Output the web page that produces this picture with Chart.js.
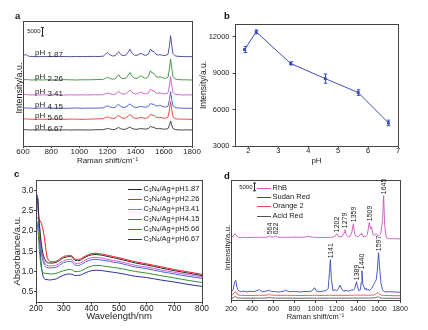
<!DOCTYPE html>
<html><head><meta charset="utf-8">
<script src="https://cdn.jsdelivr.net/npm/chart.js@4.4.1/dist/chart.umd.min.js"></script>
<style>
html,body{margin:0;padding:0;background:#fff}
#wrap{position:relative;width:428px;height:330px;overflow:hidden;background:#fff}
canvas{position:absolute}
.pl{position:absolute;font:bold 9.5px "Liberation Sans",Arial,sans-serif;color:#111;line-height:10px}
</style></head><body>
<div id="wrap">
<canvas id="ca" width="214" height="165" style="left:0px;top:0px"></canvas>
<canvas id="cb" width="232" height="165" style="left:196px;top:0px"></canvas>
<canvas id="cc" width="214" height="165" style="left:0px;top:165px"></canvas>
<canvas id="cd" width="214" height="165" style="left:214px;top:165px"></canvas>
<div class="pl" style="left:15px;top:11px">a</div>
<div class="pl" style="left:224px;top:11px">b</div>
<div class="pl" style="left:14px;top:169px">c</div>
<div class="pl" style="left:224px;top:171px">d</div>
</div>
<script>
// ---------------- panel a data ----------------
const ticksAX = [600, 800, 1000, 1200, 1400, 1600, 1800];
const phA = ['1.87', '2.26', '3.41', '4.15', '5.66', '6.67'];
const offsetsA = [53600, 39600, 30600, 22600, 16000, 9600];
const ramanA = [600,612,622,632,645,670,700,740,780,820,
  860,900,940,980,1020,1060,1100,1140,1170,1185,
  1200,1215,1235,1255,1270,1280,1292,1310,1330,1348,
  1360,1372,1390,1410,1425,1437,1450,1470,1490,1505,
  1515,1530,1545,1560,1572,1585,1600,1615,1630,1640,
  1648,1656,1665,1680,1700,1730,1760,1800];
const specA187 = [300,1000,1300,600,200,100,0,100,0,150,
  50,100,0,100,50,100,150,100,300,1500,
  2400,1300,400,600,2200,3000,1400,600,900,2800,
  4400,2400,900,800,1500,2000,1400,700,1500,4600,
  3400,3000,1400,1000,1200,900,700,800,1500,6500,
  12600,7000,1800,500,200,100,50,0];
const specA226 = [0,200,300,200,100,0,150,0,200,100,
  0,200,100,0,150,100,200,300,400,1000,
  1600,1000,500,700,2400,3200,1500,700,1100,3000,
  4600,2600,1100,1000,1900,2600,1700,900,2000,5600,
  4300,4000,2000,1700,2000,1600,1100,1000,1800,6800,
  12600,7400,2000,600,300,100,150,0];
const specA341 = [100,300,400,200,0,100,0,100,0,150,
  50,0,100,0,100,0,150,100,200,800,
  1200,800,300,500,1600,2100,1100,500,700,2000,
  3000,1800,700,700,1300,1800,1200,600,1200,3600,
  2800,2400,1200,1000,1200,1000,700,700,1400,5800,
  11000,6000,1600,400,200,0,100,0];
const specA415 = [0,200,300,100,200,0,100,200,0,100,
  200,0,100,200,0,150,100,200,300,1000,
  1500,900,400,600,1900,2400,1200,500,800,1900,
  2700,1600,700,600,900,1200,900,600,1200,3000,
  2500,2400,1300,1500,1800,1400,900,800,1300,5200,
  10000,5400,1500,500,200,100,0,100];
const specA566 = [100,200,300,200,100,0,100,0,100,200,
  100,0,150,100,0,100,200,300,400,1100,
  1500,1000,500,700,1900,2400,1300,600,900,2100,
  3000,1700,700,600,900,1200,900,600,1200,3000,
  2600,2400,1200,1000,1200,1000,700,700,1400,5600,
  10600,5800,1500,400,200,100,100,0];
const specA667 = [100,200,200,100,0,100,0,100,0,100,
  0,100,0,100,50,0,100,200,200,600,
  900,600,300,400,1200,1500,800,400,500,1300,
  1800,1000,500,400,700,900,700,500,900,2100,
  1800,1500,900,700,900,700,500,500,900,3000,
  5400,3000,900,300,100,0,100,0];
const scaleBarA = 5000;

// ---------------- panel b data ----------------
const ticksBX = [2, 3, 4, 5, 6, 7];
const ticksBY = [3000, 6000, 9000, 12000];
const phB = [1.87, 2.26, 3.41, 4.57, 5.67, 6.68];
const intB = [10950, 12400, 9800, 8550, 7400, 4900];
const errB = [250, 160, 130, 380, 230, 230];

// ---------------- panel c data ----------------
const ticksCX = [200, 300, 400, 500, 600, 700, 800];
const ticksCY = [0.5, 1.0, 1.5, 2.0, 2.5, 3.0];
const labelsC = ['C₃N₄/Ag+pH1.87', 'C₃N₄/Ag+pH2.26', 'C₃N₄/Ag+pH3.41', 'C₃N₄/Ag+pH4.15', 'C₃N₄/Ag+pH5.66', 'C₃N₄/Ag+pH6.67'];
const wavelengthC = [200,203,206,209,212,216,220,225,230,235,
  240,250,260,270,280,290,300,310,320,330,
  335,340,350,360,370,380,390,400,410,420,
  430,440,460,480,500,530,560,600,650,700,
  750,800];
const absC187 = [2.6,2.82,2.78,2.5,2.2,1.9,1.65,1.45,1.33,1.26,
  1.22,1.21,1.21,1.22,1.25,1.3,1.34,1.36,1.37,1.36,
  1.32,1.28,1.27,1.28,1.32,1.36,1.39,1.41,1.42,1.42,
  1.41,1.4,1.37,1.34,1.31,1.26,1.21,1.16,1.09,1.02,
  0.96,0.9];
const absC226 = [2.36,2.34,2.32,2.3,2.28,2.25,2.18,2.05,1.85,1.6,
  1.36,1.25,1.24,1.25,1.28,1.33,1.37,1.39,1.4,1.39,
  1.35,1.31,1.3,1.31,1.35,1.39,1.42,1.44,1.45,1.45,
  1.44,1.43,1.4,1.37,1.34,1.29,1.24,1.19,1.12,1.05,
  0.99,0.93];
const absC341 = [2.5,2.75,2.7,2.4,2.1,1.8,1.55,1.35,1.24,1.18,
  1.15,1.14,1.14,1.15,1.18,1.23,1.27,1.29,1.3,1.29,
  1.25,1.21,1.2,1.21,1.25,1.29,1.32,1.34,1.35,1.35,
  1.34,1.33,1.3,1.27,1.25,1.2,1.15,1.11,1.04,0.98,
  0.92,0.87];
const absC415 = [2.6,2.88,2.8,2.4,2.0,1.7,1.45,1.27,1.17,1.12,
  1.1,1.09,1.09,1.1,1.13,1.18,1.22,1.24,1.25,1.24,
  1.2,1.16,1.15,1.16,1.2,1.24,1.27,1.29,1.3,1.3,
  1.29,1.28,1.26,1.23,1.21,1.16,1.11,1.07,1.0,0.94,
  0.88,0.83];
const absC566 = [2.3,2.25,2.1,1.85,1.55,1.25,1.06,0.98,0.96,0.95,
  0.95,0.94,0.94,0.95,0.97,1.0,1.02,1.04,1.05,1.04,
  1.02,1.0,1.0,1.01,1.04,1.08,1.11,1.13,1.15,1.15,
  1.15,1.14,1.12,1.1,1.08,1.04,1.0,0.96,0.9,0.84,
  0.78,0.73];
const absC667 = [2.6,2.9,2.85,2.4,1.9,1.45,1.1,0.9,0.82,0.8,
  0.8,0.79,0.8,0.81,0.84,0.88,0.91,0.93,0.94,0.93,
  0.92,0.9,0.9,0.91,0.94,0.97,1.0,1.02,1.03,1.03,
  1.03,1.02,1.0,0.98,0.96,0.92,0.88,0.85,0.79,0.74,
  0.68,0.63];

// ---------------- panel d data ----------------
const ticksDX = [200, 400, 600, 800, 1000, 1200, 1400, 1600, 1800];
const namesD = ['RhB', 'Sudan Red', 'Orange 2', 'Acid Red'];
const offsetsD = [40500, 4750, 2800, 1100];
const peaksRhB = [564, 622, 1202, 1279, 1359, 1509, 1645];
const peaksSudan = [1141, 1389, 1440, 1597];
const scaleBarD = 5000;
const ramanD = [200,220,235,245,255,270,290,320,350,380,
  400,430,460,470,480,500,530,550,564,575,
  600,622,640,670,700,720,735,760,800,850,
  900,940,970,990,1010,1040,1070,1100,1120,1132,
  1141,1150,1165,1185,1202,1215,1232,1250,1270,1279,
  1290,1310,1330,1345,1359,1370,1385,1389,1395,1410,
  1425,1432,1440,1448,1460,1470,1480,1490,1500,1509,
  1520,1530,1545,1560,1575,1585,1597,1608,1620,1635,
  1645,1655,1670,1700,1740,1800];
const rhbD = [0,1000,2600,2300,1000,300,0,200,0,200,
  100,300,200,300,250,200,300,500,1200,500,
  400,1200,400,200,250,300,200,250,400,250,
  400,800,300,250,200,100,200,100,200,100,
  200,100,300,1000,2600,1000,500,650,3250,5200,
  1950,650,1000,3900,9100,2600,800,650,650,1000,
  1950,2600,1950,1000,650,650,1000,1950,5850,9750,
  5850,7150,1950,1600,2600,1600,1300,1950,3250,11700,
  27300,7800,0,-650,-650,-800];
const sudanD = [300,1950,7150,8100,3900,1300,650,1000,500,1000,
  650,1000,1600,1950,1300,650,1000,1300,1600,1000,
  650,800,400,650,1000,1600,1000,650,800,500,
  800,650,1300,3250,1000,650,1000,1300,2600,13000,
  21450,9100,1300,1950,1300,2600,4900,1950,1000,1300,
  1600,1000,1300,1950,1600,2600,6500,7150,4550,1300,
  1950,6500,14300,5200,3600,1950,2900,1600,2300,1300,
  1950,2600,4550,6500,8450,14300,26000,15600,5850,1950,
  1000,650,500,650,500,300];
const orangeD = [0,1000,2300,2600,1300,500,200,200,100,200,
  100,200,200,300,200,200,300,500,1000,500,
  300,300,200,200,200,300,200,200,200,100,
  200,200,200,300,200,100,200,200,200,300,
  300,200,200,200,300,200,300,200,200,300,
  200,200,300,300,300,300,400,400,400,300,
  300,400,500,400,300,300,300,300,300,300,
  300,400,400,650,1300,1950,1650,1000,500,200,
  200,100,100,100,0,0];
const acidD = [0,300,1000,1000,500,200,100,100,0,100,
  0,100,100,150,100,100,200,400,650,400,
  200,200,100,100,100,150,100,100,100,0,
  100,100,100,150,100,0,100,100,100,150,
  150,100,100,100,150,100,150,100,100,150,
  100,100,150,150,150,150,200,200,200,150,
  150,200,250,200,150,150,150,150,150,150,
  150,200,200,300,650,850,800,500,250,100,
  100,50,50,50,0,0];

// ---------------- styles ----------------
const F = '"Liberation Sans", Arial, Helvetica, sans-serif';
const colorsA = ['#40409c', '#3a8c3a', '#c85ac8', '#4555c8', '#ee3535', '#333333'];
const colB = '#3e4fb8';
const colorsC = ['#2a2a2a', '#ee2222', '#cc5ccc', '#4a5fe0', '#2f8f2f', '#2a2aa0'];
const colorsD = ['#cc55bb', '#3a48c0', '#f04848', '#555555'];

Chart.defaults.font.family = F;
Chart.defaults.color = '#222';
Chart.defaults.animation = false;

const specA = [specA187, specA226, specA341, specA415, specA566, specA667];
const absC = [absC187, absC226, absC341, absC415, absC566, absC667];
const specD = [rhbD, sudanD, orangeD, acidD];
const pts = (xs, ys, off) => xs.map((x, i) => ({x: x, y: ys[i] + (off || 0)}));
const alignPx = v => Math.round(v - 0.5) + 0.5;

function xAx(min, max, ticks, h, o) {
  return {
    type: 'linear', min: min, max: max,
    afterBuildTicks: s => { s.ticks = ticks.map(v => ({value: v})); },
    afterFit: s => { s.height = h; },
    ticks: {autoSkip: false, maxRotation: 0, minRotation: 0, padding: o.pad, color: '#222',
      font: {size: o.fs, lineHeight: 1}, callback: o.fmt || (v => String(v))},
    grid: {display: true, drawOnChartArea: false, drawTicks: true, tickLength: o.tl, color: '#444', lineWidth: 1},
    border: {display: false},
    title: {display: true, text: o.title, color: '#222', font: {size: o.ts, lineHeight: 1}, padding: {top: 0, bottom: o.tp}}
  };
}
function yAx(min, max, ticks, w, o) {
  return {
    type: 'linear', min: min, max: max,
    afterBuildTicks: s => { s.ticks = ticks.map(v => ({value: v})); },
    afterFit: s => { s.width = w; },
    ticks: {autoSkip: false, padding: o.pad, color: '#222', font: {size: o.fs, lineHeight: 1},
      callback: o.fmt || (v => String(v))},
    grid: {display: true, drawOnChartArea: false, drawTicks: true, tickLength: o.tl, color: '#444', lineWidth: 1},
    border: {display: false},
    title: {display: false}
  };
}
function yNone(min, max, w) {
  return {type: 'linear', min: min, max: max, afterFit: s => { s.width = w; },
    ticks: {display: false}, grid: {display: false}, border: {display: false}, title: {display: false}};
}

const frame = {
  id: 'frame',
  afterDraw(chart, args, o) {
    const ctx = chart.ctx, a = chart.chartArea;
    ctx.save();
    ctx.strokeStyle = '#444'; ctx.lineWidth = 1;
    const l = alignPx(a.left), r = alignPx(a.right), t = alignPx(a.top), b = alignPx(a.bottom);
    ctx.strokeRect(l, t, r - l, b - t);
    if (o && o.ytitle) {
      ctx.fillStyle = '#222';
      ctx.font = o.ysize + 'px ' + F;
      ctx.textAlign = 'center'; ctx.textBaseline = 'middle';
      ctx.translate(o.yx, (a.top + a.bottom) / 2 + o.ydy);
      ctx.rotate(-Math.PI / 2);
      ctx.fillText(o.ytitle, 0, 0);
    }
    ctx.restore();
  }
};

function scaleBar(ctx, x, y1, y2, label, fs) {
  ctx.beginPath();
  ctx.moveTo(x, y1); ctx.lineTo(x, y2);
  ctx.moveTo(x - 1.5, y1); ctx.lineTo(x + 1.5, y1);
  ctx.moveTo(x - 1.5, y2); ctx.lineTo(x + 1.5, y2);
  ctx.stroke();
  ctx.font = fs + 'px ' + F; ctx.textAlign = 'right'; ctx.textBaseline = 'middle';
  ctx.fillText(label, x - 2, (y1 + y2) / 2);
}

const SUB = {'₀':'0','₁':'1','₂':'2','₃':'3','₄':'4','₅':'5','₆':'6','₇':'7','₈':'8','₉':'9'};
function richText(ctx, s, x, y, size) {
  ctx.textAlign = 'left'; ctx.textBaseline = 'middle';
  for (const ch of s) {
    if (SUB[ch]) {
      ctx.font = (size * 0.62) + 'px ' + F;
      ctx.fillText(SUB[ch], x, y + size * 0.25);
      x += ctx.measureText(SUB[ch]).width;
    } else {
      ctx.font = size + 'px ' + F;
      ctx.fillText(ch, x, y);
      x += ctx.measureText(ch).width;
    }
  }
}

const baseOpts = (pad, frameOpts) => ({
  responsive: false, animation: false, events: [],
  layout: {padding: pad},
  plugins: {legend: {display: false}, tooltip: {enabled: false}, frame: frameOpts}
});

// ---------------- panel a ----------------
const annoA = {
  id: 'annoA',
  afterDatasetsDraw(chart) {
    const ctx = chart.ctx, xs = chart.scales.x, ys = chart.scales.y;
    ctx.save();
    ctx.fillStyle = '#222';
    phA.forEach((p, i) => {
      const px = xs.getPixelForValue(685);
      const py = ys.getPixelForValue(offsetsA[i]);
      ctx.font = '8px ' + F; ctx.textAlign = 'left'; ctx.textBaseline = 'alphabetic';
      ctx.fillText('pH', px, py - 1.5);
      const w = ctx.measureText('pH ').width;
      ctx.fillText(p, px + w, py + 0.5);
    });
    ctx.strokeStyle = '#222'; ctx.lineWidth = 1;
    const bx = Math.round(xs.getPixelForValue(735)) + 0.5;
    scaleBar(ctx, bx, ys.getPixelForValue(66000 + scaleBarA), ys.getPixelForValue(66000), String(scaleBarA), 6);
    ctx.restore();
  }
};
const optsA = baseOpts({left: 0, top: 21, right: 22, bottom: 0}, {ytitle: 'Intensity/a.u.', yx: 19.5, ydy: 4.5, ysize: 9});
optsA.scales = {
  x: xAx(600, 1800, ticksAX, 19, {fs: 8, tl: 2, pad: -0.5, title: 'Raman shift/cm⁻¹', ts: 8, tp: 0}),
  y: yNone(0, 75000, 23)
};
new Chart(document.getElementById('ca'), {
  type: 'line',
  data: {datasets: specA.map((s, i) => ({label: 'pH ' + phA[i], data: pts(ramanA, s, offsetsA[i]),
    borderColor: colorsA[i], borderWidth: 0.9, pointRadius: 0, tension: 0, fill: false}))},
  options: optsA,
  plugins: [frame, annoA]
});

// ---------------- panel b ----------------
const errBars = {
  id: 'errBars',
  afterDatasetsDraw(chart) {
    const ctx = chart.ctx, xs = chart.scales.x, ys = chart.scales.y;
    ctx.save(); ctx.strokeStyle = colB; ctx.lineWidth = 1;
    phB.forEach((p, i) => {
      const px = Math.round(xs.getPixelForValue(p)) + 0.5;
      const y1 = ys.getPixelForValue(intB[i] - errB[i]), y2 = ys.getPixelForValue(intB[i] + errB[i]);
      ctx.beginPath();
      ctx.moveTo(px, y1); ctx.lineTo(px, y2);
      ctx.moveTo(px - 1.8, y1); ctx.lineTo(px + 1.8, y1);
      ctx.moveTo(px - 1.8, y2); ctx.lineTo(px + 1.8, y2);
      ctx.stroke();
    });
    ctx.restore();
  }
};
const optsB = baseOpts({left: 0, top: 24, right: 30, bottom: 0}, {ytitle: 'Intensity/a.u.', yx: 8, ydy: 0, ysize: 8.5});
optsB.scales = {
  x: xAx(1.55, 7, ticksBX, 19, {fs: 7.5, tl: 2, pad: -0.5, title: 'pH', ts: 8, tp: 0}),
  y: yAx(3000, 13050, ticksBY, 39, {fs: 7.5, tl: 2.5, pad: 3})
};
new Chart(document.getElementById('cb'), {
  type: 'line',
  data: {datasets: [{label: 'Intensity', data: pts(phB, intB), borderColor: colB, borderWidth: 1,
    pointStyle: 'rect', pointRadius: 2.1, pointBackgroundColor: colB, pointBorderColor: colB, pointBorderWidth: 0, tension: 0}]},
  options: optsB,
  plugins: [frame, errBars]
});

// ---------------- panel c ----------------
const legendC = {
  id: 'legendC',
  afterDraw(chart) {
    const ctx = chart.ctx, a = chart.chartArea;
    ctx.save(); ctx.fillStyle = '#222';
    chart.data.datasets.forEach((ds, i) => {
      const y = a.top + 9 + i * 10;
      ctx.strokeStyle = ds.borderColor; ctx.lineWidth = 1;
      ctx.beginPath(); ctx.moveTo(a.left + 92, Math.round(y) + 0.5); ctx.lineTo(a.left + 106, Math.round(y) + 0.5); ctx.stroke();
      richText(ctx, ds.label, a.left + 107.5, y, 7.5);
    });
    ctx.restore();
  }
};
const optsC = baseOpts({left: 0, top: 15, right: 12, bottom: 0}, {ytitle: 'Absorbance/a.u.', yx: 17.3, ydy: 10, ysize: 9.5});
optsC.scales = {
  x: xAx(200, 800, ticksCX, 28, {fs: 8.3, tl: 2.5, pad: 0, title: 'Wavelength/nm', ts: 9.5, tp: 8.5}),
  y: yAx(0.245, 3.265, ticksCY, 36, {fs: 8.3, tl: 2, pad: 0.7, fmt: v => Number(v).toFixed(1)})
};
new Chart(document.getElementById('cc'), {
  type: 'line',
  data: {datasets: absC.map((s, i) => ({label: labelsC[i], data: pts(wavelengthC, s), borderColor: colorsC[i],
    borderWidth: 1, pointRadius: 0, tension: 0.3, fill: false}))},
  options: optsC,
  plugins: [frame, legendC]
});

// ---------------- panel d ----------------
const annoD = {
  id: 'annoD',
  afterDraw(chart) {
    const ctx = chart.ctx, a = chart.chartArea, xs = chart.scales.x, ys = chart.scales.y;
    ctx.save(); ctx.fillStyle = '#222';
    const lab = (peaks, si) => peaks.forEach(p => {
      const idx = ramanD.indexOf(p);
      const px = xs.getPixelForValue(p);
      const py = ys.getPixelForValue(specD[si][idx] + offsetsD[si]) - 1.5;
      ctx.save(); ctx.translate(px, py); ctx.rotate(-Math.PI / 2);
      ctx.font = '7px ' + F; ctx.textAlign = 'left'; ctx.textBaseline = 'middle';
      ctx.fillText(String(p), 0, 0.5); ctx.restore();
    });
    lab(peaksRhB, 0); lab(peaksSudan, 1);
    chart.data.datasets.forEach((ds, i) => {
      const y = a.top + 7.7 + i * 9.3;
      ctx.strokeStyle = ds.borderColor; ctx.lineWidth = 1;
      ctx.beginPath(); ctx.moveTo(a.left + 26, Math.round(y) + 0.5); ctx.lineTo(a.left + 40, Math.round(y) + 0.5); ctx.stroke();
      ctx.font = '7.5px ' + F; ctx.textAlign = 'left'; ctx.textBaseline = 'middle';
      ctx.fillText(ds.label, a.left + 41.5, y);
    });
    ctx.strokeStyle = '#222'; ctx.lineWidth = 1;
    const bx = Math.round(xs.getPixelForValue(415)) + 0.5;
    scaleBar(ctx, bx, ys.getPixelForValue(71000 + scaleBarD), ys.getPixelForValue(71000), String(scaleBarD), 6);
    ctx.restore();
  }
};
const optsD = baseOpts({left: 0, top: 15, right: 28, bottom: 0}, {ytitle: 'Intensity/a.u.', yx: 13.3, ydy: 7.5, ysize: 8});
optsD.scales = {
  x: xAx(200, 1800, ticksDX, 30, {fs: 7, tl: 3, pad: 2.8, title: 'Raman shift/cm⁻¹', ts: 7.5, tp: 9}),
  y: yNone(0, 78000, 17)
};
new Chart(document.getElementById('cd'), {
  type: 'line',
  data: {datasets: specD.map((s, i) => ({label: namesD[i], data: pts(ramanD, s, offsetsD[i]), borderColor: colorsD[i],
    borderWidth: 0.9, pointRadius: 0, tension: 0, fill: false}))},
  options: optsD,
  plugins: [frame, annoD]
});
</script>
</body></html>
